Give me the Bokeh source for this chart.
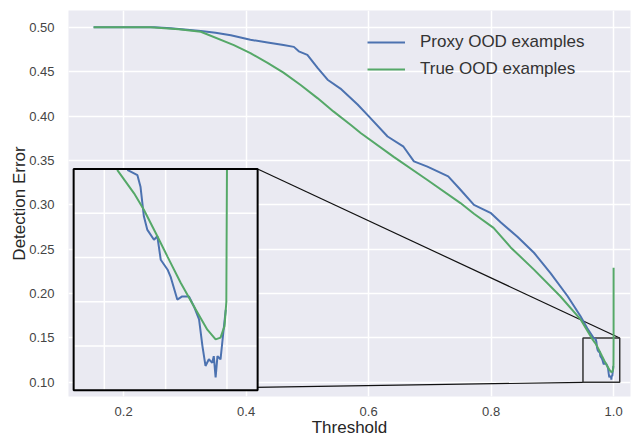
from bokeh.plotting import figure
from bokeh.models import (Range1d, FixedTicker, NumeralTickFormatter, Legend,
                          LegendItem, ColumnDataSource)
from bokeh.embed import file_html
from bokeh.resources import INLINE

# ---------------- data ----------------
proxy_threshold = [0.151, 0.250, 0.277, 0.326, 0.350, 0.375, 0.407, 0.435, 0.461,
                   0.478, 0.486, 0.500, 0.517, 0.533, 0.554, 0.582, 0.600, 0.631,
                   0.657, 0.674, 0.696, 0.730, 0.750, 0.772, 0.799, 0.816, 0.843,
                   0.870, 0.897, 0.925, 0.946, 0.957,
                   0.9675, 0.9708, 0.9718, 0.9729, 0.9740, 0.9762, 0.9773, 0.9784,
                   0.9806, 0.9816, 0.9838, 0.9854, 0.9876, 0.9892, 0.9909, 0.9920,
                   0.9930, 0.9941, 0.9952, 0.9957, 0.9963, 0.9969, 0.9979, 0.9988,
                   0.9996]
proxy_error = [0.500, 0.500, 0.499, 0.496, 0.494, 0.491, 0.486, 0.483, 0.480,
               0.478, 0.473, 0.469, 0.454, 0.441, 0.431, 0.413, 0.400, 0.377,
               0.3655, 0.349, 0.343, 0.332, 0.317, 0.300, 0.291, 0.280, 0.264,
               0.246, 0.223, 0.197, 0.1745, 0.161,
               0.1498, 0.1486, 0.1460, 0.1393, 0.1363, 0.1340, 0.1348, 0.1295,
               0.1273, 0.1257, 0.1205, 0.1212, 0.1212, 0.1190, 0.1160, 0.1100,
               0.1055, 0.1070, 0.1062, 0.1077, 0.1029, 0.1077, 0.1070, 0.1130,
               0.1182]

true_threshold = [0.151, 0.244, 0.290, 0.326, 0.380, 0.407, 0.435, 0.461, 0.489,
                  0.517, 0.543, 0.571, 0.587, 0.641, 0.696, 0.750, 0.772, 0.804,
                  0.832, 0.870, 0.913, 0.946,
                  0.9642, 0.9697, 0.9729, 0.9773, 0.9806, 0.9849, 0.9892, 0.9936,
                  0.9963, 0.9979, 0.9992, 0.9998, 1.0000, 1.0000]
true_error = [0.500, 0.500, 0.498, 0.495, 0.480, 0.471, 0.460, 0.449, 0.435,
              0.420, 0.405, 0.390, 0.381, 0.354, 0.328, 0.302, 0.290, 0.274,
              0.252, 0.227, 0.197, 0.171,
              0.1498, 0.1445, 0.1408, 0.1348, 0.1302, 0.1243, 0.1190, 0.1137,
              0.1115, 0.1119, 0.1145, 0.1200, 0.1500, 0.2290]

x_ticks = [0.2, 0.4, 0.6, 0.8, 1.0]
y_ticks = [0.10, 0.15, 0.20, 0.25, 0.30, 0.35, 0.40, 0.45, 0.50]

# zoom window shown in the inset
zoom_x = [0.95, 1.01]
zoom_y = [0.10, 0.15]
zoom_x_grid = [0.96, 0.98, 1.00]
zoom_y_grid = [0.11, 0.12, 0.13, 0.14]

series_labels = ["Proxy OOD examples", "True OOD examples"]

# ---------------- layout / style ----------------
BLUE = "#4C72B0"
GREEN = "#55A868"
BG = "#EAEAF2"
FONT = "Liberation Sans"

inset_left, inset_right = 0.1184, 0.4188
inset_bottom, inset_top = 0.0910, 0.3404

p = figure(width=633, height=439,
           x_range=Range1d(0.110, 1.0276), y_range=Range1d(0.084, 0.519),
           output_backend="svg", toolbar_location=None,
           background_fill_color=BG, border_fill_color="white",
           min_border_left=68, min_border_right=3, min_border_top=10,
           min_border_bottom=0)
p.outline_line_color = None

p.xgrid.ticker = FixedTicker(ticks=x_ticks)
p.ygrid.ticker = FixedTicker(ticks=y_ticks)
p.grid.grid_line_color = "white"
p.grid.grid_line_width = 1.5

p.xaxis.ticker = FixedTicker(ticks=x_ticks)
p.yaxis.ticker = FixedTicker(ticks=y_ticks)
p.xaxis.formatter = NumeralTickFormatter(format="0.0")
p.yaxis.formatter = NumeralTickFormatter(format="0.00")
p.xaxis.axis_label = "Threshold"
p.yaxis.axis_label = "Detection Error"
for ax in (p.xaxis, p.yaxis):
    ax.axis_line_color = None
    ax.major_tick_line_color = None
    ax.minor_tick_line_color = None
    ax.major_label_text_font = FONT
    ax.major_label_text_font_size = "13px"
    ax.major_label_text_color = "#444444"
    ax.axis_label_text_font = FONT
    ax.axis_label_text_font_size = "17px"
    ax.axis_label_text_font_style = "normal"
    ax.axis_label_text_color = "#262626"
p.xaxis.major_label_standoff = 4
p.yaxis.major_label_standoff = 8
p.xaxis.axis_label_standoff = -1
p.yaxis.axis_label_standoff = -3

# connector lines and zoom box (under the curves)
p.segment(x0=[inset_right, inset_left], y0=[inset_top, inset_bottom],
          x1=[zoom_x[1], zoom_x[0]], y1=[zoom_y[1], zoom_y[0]],
          line_color="#111111", line_width=1.2)
p.quad(left=zoom_x[0], right=zoom_x[1], bottom=zoom_y[0], top=zoom_y[1],
       fill_color=None, line_color="#333333", line_width=1.5)

# main curves
src_proxy = ColumnDataSource(dict(x=proxy_threshold, y=proxy_error))
src_true = ColumnDataSource(dict(x=true_threshold, y=true_error))
r_blue = p.line("x", "y", source=src_proxy, line_color=BLUE, line_width=2)
r_green = p.line("x", "y", source=src_true, line_color=GREEN, line_width=2)

# inset
p.quad(left=inset_left, right=inset_right, bottom=inset_bottom, top=inset_top,
       fill_color=BG, line_color=None)
sub = p.subplot(x_source=Range1d(zoom_x[0], zoom_x[1]),
                y_source=Range1d(zoom_y[0], zoom_y[1]),
                x_target=Range1d(inset_left, inset_right),
                y_target=Range1d(inset_bottom, inset_top))
sub.segment(x0=zoom_x_grid, y0=[zoom_y[0]] * len(zoom_x_grid),
            x1=zoom_x_grid, y1=[zoom_y[1]] * len(zoom_x_grid),
            line_color="white", line_width=1.5)
sub.segment(x0=[zoom_x[0]] * len(zoom_y_grid), y0=zoom_y_grid,
            x1=[zoom_x[1]] * len(zoom_y_grid), y1=zoom_y_grid,
            line_color="white", line_width=1.5)


def in_zoom(xs, ys):
    keep = [(x, y) for x, y in zip(xs, ys)
            if zoom_x[0] <= x <= zoom_x[1] and zoom_y[0] <= y <= zoom_y[1] + 1e-9]
    return dict(x=[k[0] for k in keep], y=[k[1] for k in keep])


sub.line("x", "y", source=ColumnDataSource(in_zoom(proxy_threshold, proxy_error)),
         line_color=BLUE, line_width=2)
sub.line("x", "y", source=ColumnDataSource(in_zoom(true_threshold, true_error)),
         line_color=GREEN, line_width=2)
p.quad(left=inset_left, right=inset_right, bottom=inset_bottom, top=inset_top,
       fill_color=None, line_color="black", line_width=2)

legend = Legend(items=[LegendItem(label=series_labels[0], renderers=[r_blue]),
                       LegendItem(label=series_labels[1], renderers=[r_green])],
                location=(299, 317))
legend.label_text_font = FONT
legend.label_text_font_size = "17px"
legend.label_text_color = "#333333"
legend.glyph_width = 38
legend.glyph_height = 20
legend.label_height = 20
legend.label_standoff = 15
legend.spacing = 7
legend.padding = 0
legend.margin = 0
legend.border_line_color = None
legend.background_fill_alpha = 0
p.add_layout(legend)

open("out.html", "w").write(file_html(p, INLINE))
